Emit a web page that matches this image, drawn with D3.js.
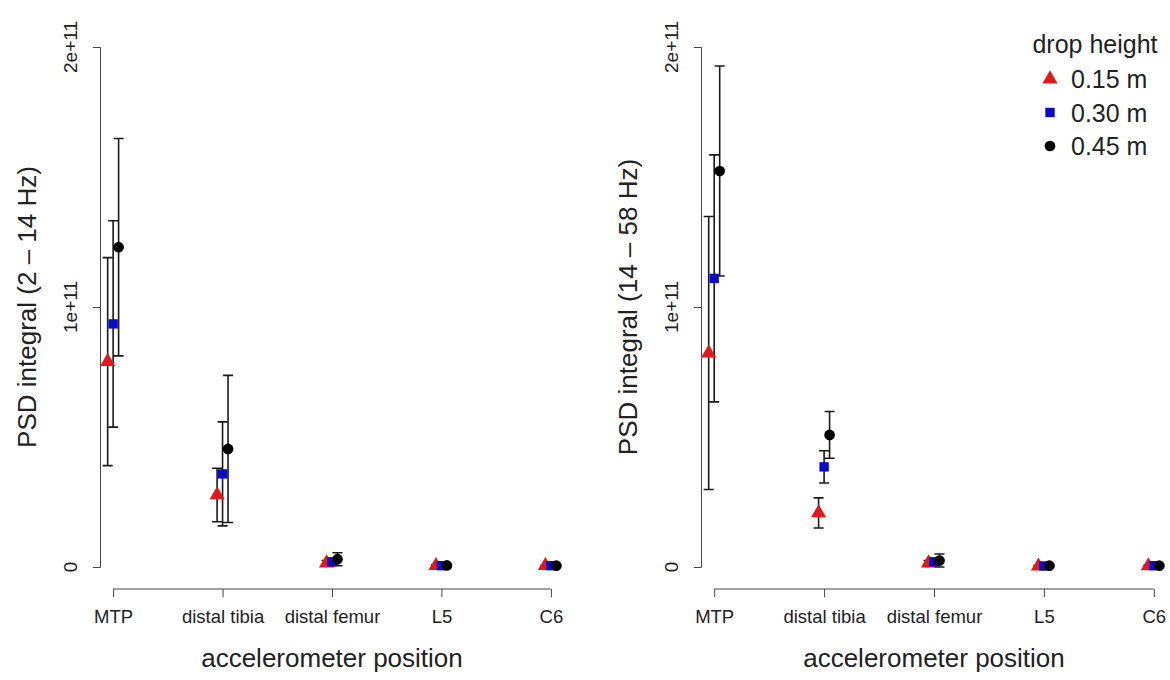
<!DOCTYPE html>
<meta charset="utf-8">
<title>PSD integral by accelerometer position</title>
<script src="https://d3js.org/d3.v7.min.js"></script>
<style>
  body { margin: 0; background: #fff; }
  svg text { font-family: "Liberation Sans", Arial, Helvetica, sans-serif; fill: #222; }
</style>
<body>
<svg width="1170" height="680"></svg>
<script>
  // categories
  var positions = ["MTP", "distal tibia", "distal femur", "L5", "C6"];
  var heights = ["0.15 m", "0.30 m", "0.45 m"];
  var yTicks = [0, 1e11, 2e11];
  var yTickLabels = ["0", "1e+11", "2e+11"];

  // 2 - 14 Hz band, mean and sd per drop height
  var low15 = [0.79e11, 0.277e11, 0.015e11, 0.005e11, 0.005e11];
  var low15sd = [0.40e11, 0.103e11, 0.01e11, 0.003e11, 0.002e11];
  var low30 = [0.935e11, 0.358e11, 0.02e11, 0.005e11, 0.005e11];
  var low30sd = [0.397e11, 0.20e11, 0.01e11, 0.003e11, 0.002e11];
  var low45 = [1.23e11, 0.454e11, 0.03e11, 0.006e11, 0.005e11];
  var low45sd = [0.418e11, 0.283e11, 0.025e11, 0.004e11, 0.003e11];

  // 14 - 58 Hz band
  var high15 = [0.823e11, 0.208e11, 0.015e11, 0.003e11, 0.004e11];
  var high15sd = [0.525e11, 0.058e11, 0.01e11, 0.002e11, 0.002e11];
  var high30 = [1.11e11, 0.385e11, 0.02e11, 0.004e11, 0.005e11];
  var high30sd = [0.475e11, 0.062e11, 0.012e11, 0.002e11, 0.002e11];
  var high45 = [1.523e11, 0.508e11, 0.025e11, 0.005e11, 0.005e11];
  var high45sd = [0.404e11, 0.09e11, 0.025e11, 0.003e11, 0.003e11];

  var colors = ["#e2191c", "#0a0ac8", "#000000"];
  var shapes = [d3.symbolTriangle, d3.symbolSquare, d3.symbolCircle];
  var shapeSize = [100, 88, 90];
  var dodge = [-0.05, 0, 0.05];

  var svg = d3.select("svg");

  var panels = [
    { x0: 100, x1: 564, title: "PSD integral (2 \u2013 14 Hz)",
      means: [low15, low30, low45], sds: [low15sd, low30sd, low45sd] },
    { x0: 701, x1: 1167, title: "PSD integral (14 \u2013 58 Hz)",
      means: [high15, high30, high45], sds: [high15sd, high30sd, high45sd] }
  ];

  var y = d3.scaleLinear().domain([0, 2e11]).range([567, 47]);

  panels.forEach(function (p) {
    var x = d3.scaleLinear().domain([0.88, 5.12]).range([p.x0, p.x1]);
    var g = svg.append("g");

    // y axis
    var ya = g.append("g").attr("transform", "translate(" + p.x0 + ",0)")
      .call(d3.axisLeft(y).tickValues(yTicks).tickFormat("").tickSizeOuter(0).tickSize(7));
    ya.select(".domain").attr("stroke", "#444");
    ya.selectAll(".tick line").attr("stroke", "#444");
    ya.selectAll(".tick text").remove();

    // rotated tick labels, as R draws them
    yTicks.forEach(function (t, i) {
      g.append("text")
        .attr("x", p.x0 - 23).attr("y", y(t))
        .attr("transform", "rotate(-90," + (p.x0 - 23) + "," + y(t) + ")")
        .attr("text-anchor", "middle")
        .attr("font-size", "19px")
        .style("font-size", "19px")
        .text(yTickLabels[i]);
    });

    // x axis
    var xa = g.append("g").attr("transform", "translate(0,589)")
      .call(d3.axisBottom(x).tickValues([1, 2, 3, 4, 5]).tickFormat(function (d) { return positions[d - 1]; }).tickSizeOuter(0).tickSize(8));
    xa.attr("font-size", null).attr("font-family", null);
    xa.select(".domain").attr("d", "M" + x(1) + ",0H" + x(5)).attr("stroke", "#444");
    xa.selectAll(".tick line").attr("stroke", "#444");
    xa.selectAll(".tick text").style("font-size", "18.5px").attr("fill", "#222").attr("y", 34).attr("dy", 0);

    // titles
    g.append("text").attr("transform", "translate(" + (p.x0 - 64) + ",307) rotate(-90)")
      .attr("text-anchor", "middle").style("font-size", "26px").text(p.title);
    g.append("text").attr("x", x(3)).attr("y", 667)
      .attr("text-anchor", "middle").style("font-size", "26px").text("accelerometer position");

    // error bars
    heights.forEach(function (h, k) {
      var rows = p.means[k].map(function (m, i) { return { pos: i + 1 + dodge[k], m: m, sd: p.sds[k][i] }; });
      var eb = g.append("g").attr("stroke", "#1a1a1a").attr("stroke-width", 1.6).attr("fill", "none");
      eb.selectAll("path").data(rows).enter().append("path")
        .attr("d", function (d) {
          var cx = x(d.pos), t = y(d.m + d.sd), b = y(d.m - d.sd);
          return "M" + cx + "," + t + "V" + b + "M" + (cx - 5) + "," + t + "H" + (cx + 5) + "M" + (cx - 5) + "," + b + "H" + (cx + 5);
        });
    });

    // points
    heights.forEach(function (h, k) {
      var rows = p.means[k].map(function (m, i) { return { pos: i + 1 + dodge[k], m: m }; });
      g.append("g").selectAll("path").data(rows).enter().append("path")
        .attr("d", d3.symbol().type(shapes[k]).size(shapeSize[k]))
        .attr("transform", function (d) { return "translate(" + x(d.pos) + "," + y(d.m) + ")"; })
        .attr("fill", colors[k]);
    });
  });

  // legend
  var lg = svg.append("g");
  lg.append("text").attr("x", 1095).attr("y", 53).attr("text-anchor", "middle").style("font-size", "25px").text("drop height");
  heights.forEach(function (h, k) {
    var ly = 79 + k * 33.5;
    lg.append("path").attr("d", d3.symbol().type(shapes[k]).size(shapeSize[k]))
      .attr("transform", "translate(1050," + ly + ")").attr("fill", colors[k]);
    lg.append("text").attr("x", 1071).attr("y", ly + 9).style("font-size", "25px").text(h);
  });
</script>
</body>
